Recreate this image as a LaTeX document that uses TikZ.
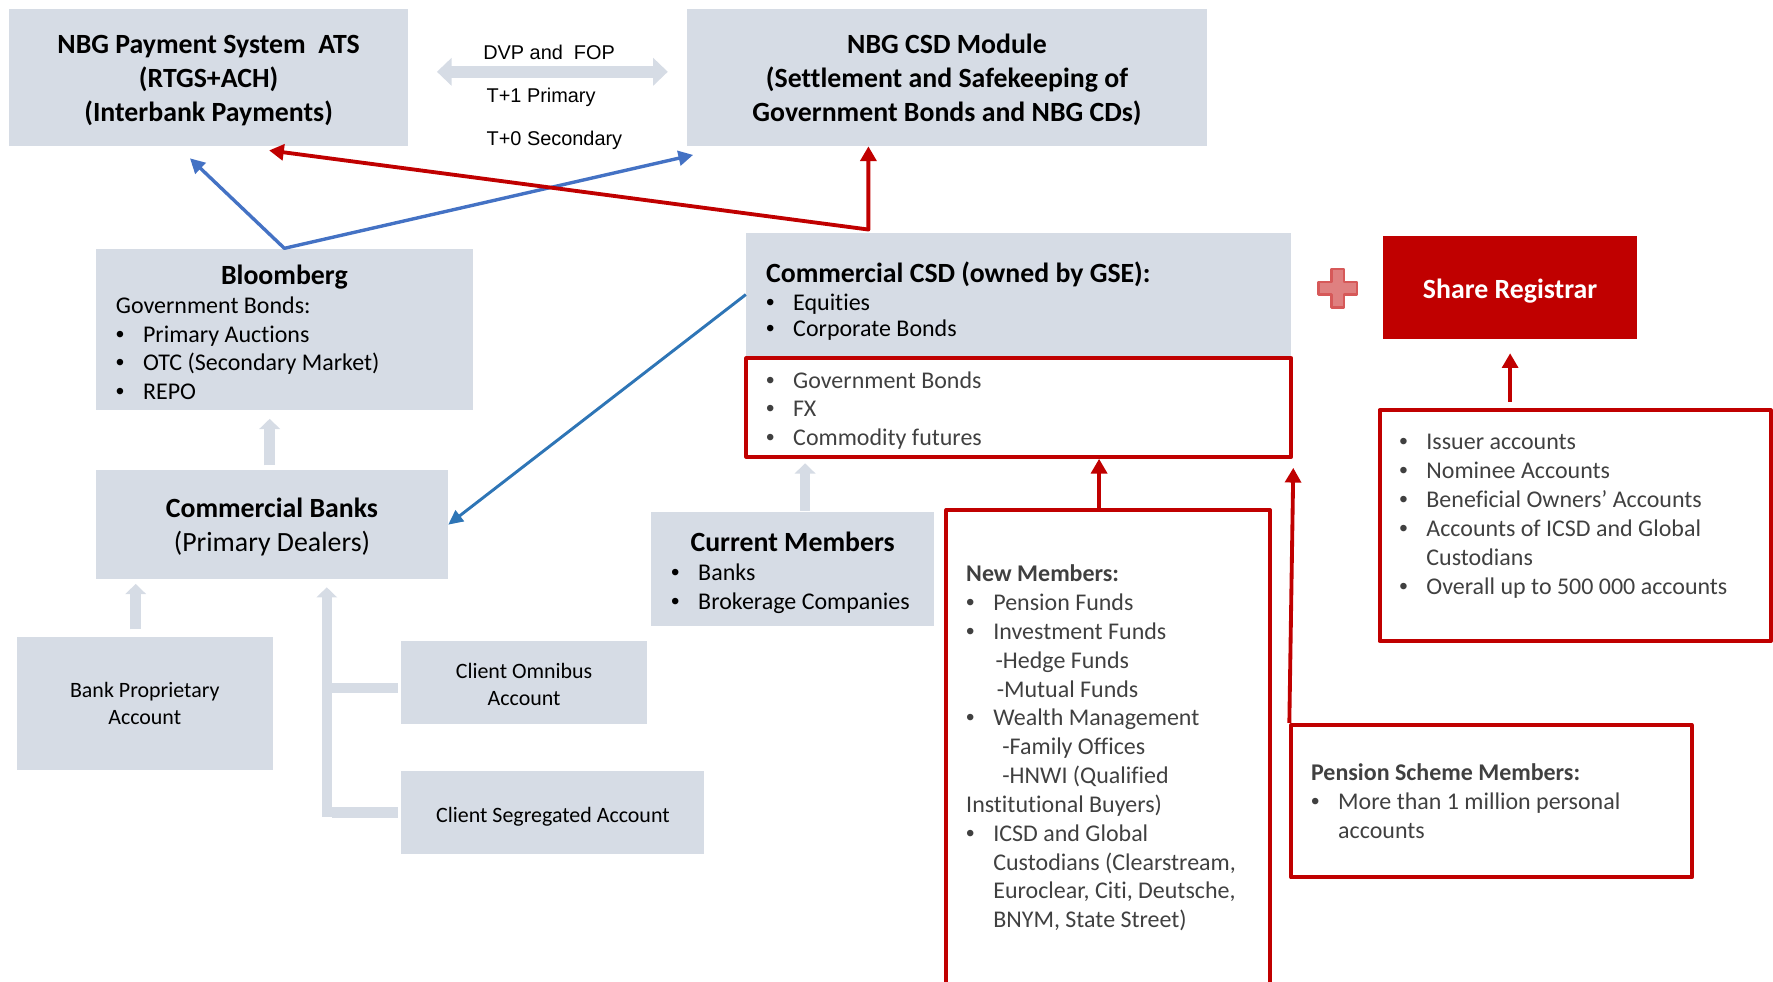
\documentclass[tikz,border=0pt]{standalone}
\usepackage{fontspec}
\setmainfont{Carlito}[Ligatures=NoCommon]
\newfontfamily\arialfam{Liberation Sans}
\usetikzlibrary{arrows.meta, calc}

\definecolor{boxgray}{HTML}{D6DCE5}
\definecolor{csdred}{HTML}{C00000}
\definecolor{linkblue}{HTML}{4472C4}
\definecolor{darkblue}{HTML}{2E75B6}
\definecolor{txtgray}{HTML}{404040}

\newcommand{\titlef}{\fontsize{12.3}{15}\selectfont\bfseries}
\newcommand{\bodyf}{\fontsize{10.6}{12.75}\selectfont}
\newcommand{\acctf}{\fontsize{9.7}{12}\selectfont}
\newcommand{\labelf}{\arialfam\fontsize{8.8}{10.5}\selectfont}
\newcommand{\bpt}{\makebox[12pt][l]{{\arialfam\textbullet}}}

\begin{document}
\begin{tikzpicture}[x=0.5pt, y=-0.5pt, line join=round,
    grbox/.style={fill=boxgray, inner xsep=8.75pt, inner ysep=0pt},
    redbox/.style={draw=csdred, line width=1.75pt, inner xsep=8.75pt, inner ysep=0pt, text=txtgray},
    redarr/.style={draw=csdred, line width=1.7pt, -{Triangle[length=6.5pt,width=7pt]}},
    bluearr/.style={draw=linkblue, line width=1.5pt, -{Triangle[length=6.5pt,width=6.5pt]}},
    darkarr/.style={draw=darkblue, line width=1.3pt, -{Triangle[length=6.5pt,width=6pt]}},
    fatline/.style={draw=boxgray, line width=4.6pt},
    fatarr/.style={fatline, -{Triangle[length=4.5pt,width=9pt]}}]
    \useasboundingbox (0,0) rectangle (1568,868);

    % top row: NBG systems
    \node[grbox, text width=159pt, align=flush center, font=\titlef, minimum height=60.5pt] (pay) at (184.5,68.5)
        {NBG Payment System~~ATS\\(RTGS+ACH)\\(Interbank Payments)\vspace*{-3pt}};
    \node[grbox, text width=212pt, align=flush center, font=\titlef, minimum height=60.5pt] (nbgcsd) at (837.5,68.5)
        {NBG CSD Module\\(Settlement and Safekeeping of\\Government Bonds and NBG CDs)\vspace*{-2pt}};

    % settlement link between them
    \draw[fatline, line width=5.5pt, {Triangle[length=6.5pt,width=12pt]}-{Triangle[length=6.5pt,width=12pt]}]
        ($(pay.east)+(25,-5)$) -- ($(nbgcsd.west)+(-17,-5)$);
    \node[font=\labelf, inner sep=0pt, anchor=west] (dvp) at (427,46) {DVP and~ FOP};
    \node[font=\labelf, inner sep=0pt, anchor=west] (tprim) at (430,86) {T+1 Primary};
    \node[font=\labelf, inner sep=0pt, anchor=west] (tsec) at (430,124) {T+0 Secondary};

    % Bloomberg and commercial banks
    \node[grbox, text width=149pt, minimum height=71.5pt, align=flush left, font=\bodyf] (bloom) at (251.5,291.5)
        {{\titlef\centering Bloomberg\par}Government Bonds:\\
         \bpt Primary Auctions\\ \bpt OTC (Secondary Market)\\ \bpt REPO\vspace*{-2.5pt}};
    \node[grbox, text width=138pt, align=flush center, font=\fontsize{12.3}{15}\selectfont, minimum height=48pt] (cbanks) at (240.5,464)
        {\textbf{Commercial Banks}\\(Primary Dealers)\vspace*{-2pt}};

    % account types
    \node[grbox, text width=95.5pt, align=flush center, font=\acctf, minimum height=59pt] (bank) at (128,622)
        {Bank Proprietary\\Account};
    \node[grbox, text width=91pt, align=flush center, font=\acctf, minimum height=36.5pt] (omni) at (463.5,603.5)
        {Client Omnibus\\Account\vspace*{-2pt}};
    \node[grbox, font=\acctf, text height=11pt, text depth=2.2pt, minimum width=134pt, minimum height=36.5pt] (seg) at (489,718.5)
        {Client Segregated Account};

    % commercial CSD
    \node[grbox, text width=223.5pt, minimum height=54.5pt, align=flush left, font=\bodyf] (ccsd) at (901,260.5)
        {{\titlef Commercial CSD (owned by GSE):\par}\bpt Equities\\[-1.5pt] \bpt Corporate Bonds\vspace*{-5.5pt}};
    \node[redbox, text width=223.5pt, minimum height=43.5pt, align=flush left, font=\bodyf] (gov) at (901,360.5)
        {\bpt Government Bonds\\ \bpt FX\\ \bpt Commodity futures\vspace*{-2.5pt}};

    % share registrar
    \draw[fill=csdred!50, draw=csdred!65, line width=1pt] (1183,255) ++(-5.5,-17) -- ++(11,0) -- ++(0,11.5)
        -- ++(11.5,0) -- ++(0,11) -- ++(-11.5,0) -- ++(0,11.5) -- ++(-11,0) -- ++(0,-11.5)
        -- ++(-11.5,0) -- ++(0,-11) -- ++(11.5,0) -- cycle;
    \node[fill=csdred, text=white, font=\titlef, text height=11.5pt, text depth=2.2pt, inner sep=0pt,
        minimum width=112.5pt, minimum height=45.5pt] (share) at (1335.5,254.5) {Share Registrar};
    \node[redbox, text width=155.5pt, minimum height=102pt, align=flush left, font=\bodyf] (issuer) at (1393,465)
        {\bpt Issuer accounts\\ \bpt Nominee Accounts\\ \bpt Beneficial Owners’ Accounts\\
         \bpt Accounts of ICSD and Global\\ \hspace*{12pt}Custodians\\
         \bpt Overall up to 500 000 accounts\vspace*{8.5pt}};

    % members
    \node[grbox, text width=107.5pt, minimum height=50.5pt, align=flush left, font=\bodyf] (curm) at (701,503.5)
        {{\titlef\centering Current Members\par}\bpt Banks\\ \bpt Brokerage Companies\vspace*{-3pt}};
    \node[redbox, text width=125.5pt, minimum height=210.5pt, align=flush left, font=\bodyf] (newm) at (980,661.5)
        {\textbf{New Members:}\\ \bpt Pension Funds\\ \bpt Investment Funds\\
         \hspace*{13pt}-Hedge Funds\\ \hspace*{13.5pt}-Mutual Funds\\ \bpt Wealth Management\\
         \hspace*{16pt}-Family Offices\\ \hspace*{16pt}-HNWI (Qualified\\ Institutional Buyers)\\
         \bpt ICSD and Global\\ \hspace*{12pt}Custodians (Clearstream,\\
         \hspace*{12pt}Euroclear, Citi, Deutsche,\\ \hspace*{12pt}BNYM, State Street)};
    \node[redbox, text width=159.5pt, minimum height=67.5pt, align=flush left, font=\bodyf] (pens) at (1319,708.5)
        {\textbf{Pension Scheme Members:}\\ \bpt More than 1 million personal\\ \hspace*{12pt}accounts};

    % links to the NBG systems
    \coordinate (payInB) at (168,140);
    \coordinate (csdInB) at (613,137);
    \coordinate (payInR) at (238,133);
    \coordinate (ccsdTop) at (768,203);
    \draw[bluearr, {Triangle[length=6.5pt,width=6.5pt]}-{Triangle[length=6.5pt,width=6.5pt]}]
        (payInB) -- (bloom.north) -- (csdInB);
    \draw[redarr, {Triangle[length=6.5pt,width=7pt]}-{Triangle[length=6.5pt,width=7pt]}]
        (payInR) -- (ccsdTop) -- (ccsdTop |- nbgcsd.south);
    \draw[darkarr] (ccsd.west) -- (cbanks.east);

    % red feeds
    \draw[redarr] ($(issuer.north -| share.south)+(0,-6)$) -- ($(share.south)+(0,12)$);
    \draw[redarr] ($(newm.north)+(-8,0)$) -- ($(newm.north |- gov.south)+(-8,0)$);
    \draw[redarr] (pens.north west) -- ($(gov.south east)+(0,8)$);

    % light gray feeds
    \draw[fatarr] ($(cbanks.north)+(-2,-4)$) -- ($(cbanks.north |- bloom.south)+(-2,7)$);
    \draw[fatarr] ($(bank.north)+(-8,-6)$) -- ($(bank.north |- cbanks.south)+(-8,4)$);
    \draw[fatarr] ($(curm.north)+(11,-1)$) -- ($(curm.north |- gov.south)+(11,4)$);
    \coordinate (trunk) at (289,0);
    \draw[fatarr] ($(trunk |- seg.west)+(0,4)$) -- ($(trunk |- cbanks.south)+(0,7)$);
    \draw[fatline] ($(omni.west)+(-3,5)$) -- ($(trunk |- omni.west)+(5,5)$);
    \draw[fatline] ($(seg.west)+(-3,0)$) -- ($(trunk |- seg.west)+(5,0)$);
\end{tikzpicture}
\end{document}
